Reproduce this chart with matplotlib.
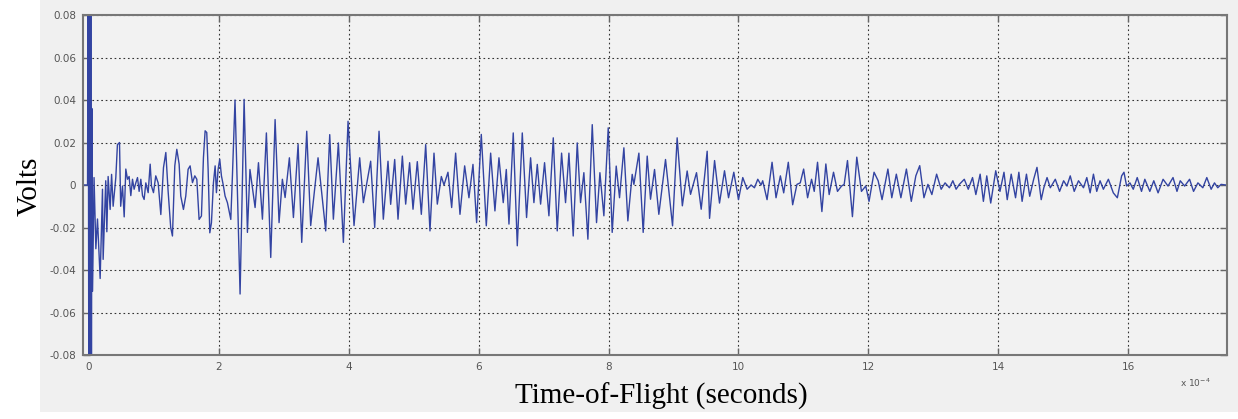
import matplotlib.pyplot as plt
from matplotlib.patches import Rectangle

# trace: time in units of 1e-4 s, amplitude in volts
# (turning points of the waveform, left to right)
t_pts = [
    -0.09, -0.02, -0.01, 0.00, 0.01, 0.02, 0.03, 0.04, 0.046, 0.057,
    0.08, 0.108, 0.133, 0.174, 0.21, 0.22, 0.26, 0.277, 0.297, 0.328,
    0.35, 0.374, 0.415, 0.44, 0.472, 0.49, 0.518, 0.544, 0.569, 0.595,
    0.62, 0.646, 0.672, 0.697, 0.723, 0.749, 0.774, 0.80, 0.826, 0.851,
    0.877, 0.913, 0.944, 0.964, 0.995, 1.03, 1.067, 1.108, 1.149, 1.185,
    1.22, 1.26, 1.287, 1.323, 1.354, 1.39, 1.415, 1.456, 1.492, 1.528,
    1.559, 1.595, 1.631, 1.662, 1.697, 1.733, 1.764, 1.79, 1.815, 1.836,
    1.862, 1.887, 1.918, 1.944, 1.964, 1.99, 2.015, 2.041, 2.072, 2.097,
    2.133, 2.185, 2.21, 2.25,
    2.328, 2.39, 2.441, 2.48, 2.559, 2.611, 2.672, 2.733, 2.80, 2.867,
    2.928, 2.979, 3.021, 3.087, 3.149, 3.221, 3.277, 3.354, 3.415, 3.528,
    3.646, 3.708, 3.764, 3.841, 3.918, 3.990, 4.082, 4.169, 4.226, 4.338,
    4.40, 4.467, 4.533, 4.605, 4.646, 4.708, 4.759,
    4.826, 4.877, 4.938, 4.99, 5.056, 5.118, 5.185, 5.251, 5.313, 5.364,
    5.426, 5.467, 5.528, 5.585, 5.646, 5.713, 5.785, 5.851, 5.913, 5.969,
    6.041, 6.118, 6.185, 6.251, 6.313, 6.379, 6.426, 6.467, 6.533, 6.595,
    6.672, 6.738, 6.80, 6.851, 6.903, 6.954, 7.015, 7.082, 7.149, 7.21,
    7.277, 7.338, 7.39, 7.456, 7.518, 7.569, 7.62, 7.682, 7.749, 7.815,
    7.867, 7.928, 7.995, 8.056, 8.118, 8.169, 8.236, 8.297, 8.364, 8.39,
    8.467, 8.533, 8.595, 8.646, 8.708, 8.774, 8.877, 8.985, 9.056, 9.136,
    9.21, 9.262, 9.354, 9.426, 9.518, 9.555,
    9.632, 9.708, 9.785, 9.847, 9.928, 10.0, 10.066, 10.133, 10.194, 10.246,
    10.297, 10.348, 10.373, 10.44, 10.517, 10.578, 10.645, 10.696, 10.767, 10.834,
    10.90, 10.951, 11.003, 11.064, 11.125, 11.166, 11.217, 11.284, 11.345, 11.396,
    11.463, 11.524, 11.586, 11.627, 11.678, 11.754, 11.821, 11.893, 11.959, 12.01,
    12.087,
    12.15, 12.21, 12.30, 12.36, 12.43, 12.50, 12.585, 12.66, 12.73, 12.79,
    12.855, 12.916, 12.977, 13.05, 13.12, 13.18, 13.247, 13.30, 13.35, 13.40,
    13.476, 13.537, 13.603, 13.654, 13.72, 13.77, 13.822, 13.883, 13.96, 14.025,
    14.087, 14.137, 14.198, 14.265, 14.316, 14.366, 14.433, 14.483, 14.544, 14.595,
    14.66, 14.70, 14.75, 14.80, 14.877, 14.943, 15.005, 15.056, 15.107, 15.168,
    15.234, 15.311, 15.362, 15.413, 15.464, 15.515, 15.566, 15.617, 15.694, 15.77,
    15.832, 15.898, 15.934, 15.975, 16.026, 16.077, 16.138, 16.204, 16.255, 16.332,
    16.393, 16.459, 16.536, 16.612, 16.689, 16.75, 16.80, 16.868, 16.944, 17.005,
    17.072, 17.148, 17.209, 17.276, 17.327, 17.378, 17.429, 17.5,
]
v_pts = [
    0.0, 0.0, 0.12, -0.12, 0.12, -0.12, 0.12, -0.12, 0.036, -0.050,
    0.0035, -0.030, -0.016, -0.044, -0.002, -0.035, 0.002, -0.022, 0.004, -0.0115,
    0.005, -0.010, 0.0035, 0.019, 0.020, -0.010, -0.0005, -0.015, 0.0075, 0.0027,
    0.004, -0.005, 0.0027, -0.002, 0.001, 0.0035, -0.003, 0.0027, -0.005, -0.0068,
    0.001, -0.0036, 0.0098, -0.0005, -0.0036, 0.0043, 0.001, -0.0139, 0.0082, 0.0153,
    -0.0028, -0.020, -0.024, 0.009, 0.0168, 0.0098, -0.0052, -0.0115, -0.0052, 0.0074,
    0.009, 0.0011, 0.0043, 0.0027, -0.0162, -0.0146, 0.0129, 0.0255, 0.0247, 0.0074,
    -0.0225, -0.0178, 0.0011, 0.009, -0.0036, 0.0074, 0.0121, 0.0043, -0.0005, -0.0052,
    -0.0083, -0.0162, 0.0043, 0.040,
    -0.0513, 0.0403, -0.0223, 0.0073, -0.0106, 0.0105, -0.0161, 0.0245, -0.0341, 0.0308,
    -0.0177, 0.0027, -0.0059, 0.0128, -0.0153, 0.0191, -0.0270, 0.0253, -0.0191, 0.0128,
    -0.0216, 0.0237, -0.0161, 0.0198, -0.0270, 0.0300, -0.0191, 0.0128, -0.0083, 0.0112,
    -0.0200, 0.0253, -0.0161, 0.0112, -0.0091, 0.0120, -0.0161,
    0.0136, -0.009, 0.0105, -0.0114, 0.011, -0.0138, 0.019, -0.0216, 0.015, -0.009,
    0.004, 0.0, 0.006, -0.0106, 0.015, -0.0138, 0.009, -0.006, 0.0097, -0.0177,
    0.0238, -0.0192, 0.015, -0.0122, 0.0128, -0.0083, 0.0073, -0.0184, 0.0245, -0.0286,
    0.0245, -0.0153, 0.0128, -0.0083, 0.0097, -0.009, 0.0105, -0.0145, 0.0222, -0.0216,
    0.015, -0.0083, 0.015, -0.024, 0.0198, -0.0083, 0.0058, -0.0255, 0.0284, -0.0177,
    0.0058, -0.0145, 0.0269, -0.0223, 0.0089, -0.006, 0.0175, -0.0169, 0.005, 0.0003,
    0.015, -0.0223, 0.0136, -0.0067, 0.0073, -0.0138, 0.012, -0.0192, 0.0222, -0.0098,
    0.0066, -0.0044, 0.0058, -0.0114, 0.0159, -0.0157,
    0.0115, -0.0085, 0.0067, -0.006, 0.006, -0.0069, 0.0035, -0.002, 0.0, -0.0013,
    0.0027, 0.0, 0.002, -0.0069, 0.0107, -0.006, 0.0043, -0.0037, 0.0107, -0.0093,
    0.0003, 0.001, 0.0075, -0.006, 0.0027, -0.003, 0.0107, -0.0125, 0.0099, -0.0045,
    0.006, -0.003, -0.0005, 0.0003, 0.0115, -0.0149, 0.0131, -0.003, -0.0005, -0.0077,
    0.006,
    0.002, -0.0069, 0.0075, -0.006, 0.0051, -0.006, 0.0075, -0.0077, 0.0043, 0.0091,
    -0.006, 0.0003, -0.0045, 0.0051, -0.002, 0.001, -0.0013, 0.002, -0.002, 0.0003,
    0.0027, -0.002, 0.0035, -0.0045, 0.0051, -0.0077, 0.0043, -0.0085, 0.0067, -0.003,
    0.006, -0.0069, 0.0051, -0.006, 0.006, -0.0077, 0.0051, -0.0053, 0.0027, 0.0083,
    -0.0069, -0.0013, 0.0035, -0.0013, 0.0027, -0.003, 0.002, -0.0005, 0.0043, -0.003,
    0.002, -0.0013, 0.0035, -0.0037, 0.0051, -0.003, 0.002, -0.002, 0.0027, -0.0037,
    -0.006, 0.0043, 0.006, -0.0005, 0.001, -0.002, 0.0035, -0.003, 0.0027, -0.003,
    0.002, -0.0037, 0.0027, -0.0005, 0.0035, -0.003, 0.002, -0.0005, 0.0027, -0.003,
    0.001, -0.0013, 0.0035, -0.002, 0.001, -0.0013, 0.0003, 0.0,
]

x_ticks = [0, 2, 4, 6, 8, 10, 12, 14, 16]
y_ticks = [-0.08, -0.06, -0.04, -0.02, 0, 0.02, 0.04, 0.06, 0.08]
y_tick_labels = ['-0.08', '-0.06', '-0.04', '-0.02', '0', '0.02', '0.04', '0.06', '0.08']

W, H = 1238, 419
fig = plt.figure(figsize=(W / 100, H / 100), dpi=100)
fig.patch.set_facecolor('white')
# grey panel behind the axes (the white strip on the left holds the y label)
fig.patches.append(Rectangle((40 / W, 1 - 412 / H), 1 - 40 / W, 412 / H,
                             transform=fig.transFigure, facecolor='#f0f0f0',
                             edgecolor='none', zorder=-10))

ax = fig.add_axes([83 / W, 1 - 355 / H, (1227 - 83) / W, (355 - 15) / H])
ax.set_facecolor('#f2f2f2')
ax.plot(t_pts, v_pts, color='#3344a2', lw=1.0, solid_joinstyle='round')

ax.set_xlim(-0.09, 17.52)
ax.set_ylim(-0.08, 0.08)
ax.set_xticks(x_ticks)
ax.set_yticks(y_ticks)
ax.set_yticklabels(y_tick_labels)
ax.grid(True, linestyle=(0, (1.5, 2.5)), color='#333333', lw=0.8)
ax.tick_params(direction='in', top=True, right=True, length=5, width=1,
               color='#666666', labelsize=7.5, labelcolor='#555555', pad=5)
for sp in ax.spines.values():
    sp.set_color('#777777')
    sp.set_linewidth(1.5)

fig.text(661 / W, 1 - 396 / H, 'Time-of-Flight (seconds)', family='Liberation Serif',
         fontsize=21, ha='center', va='center')
fig.text(30 / W, 1 - 186 / H, 'Volts', family='Liberation Serif', fontsize=21,
         rotation=90, ha='center', va='center')
fig.text(1195 / W, 1 - 383 / H, r'x 10$^{-4}$', fontsize=6.5, color='#555555',
         ha='center', va='center')

fig.savefig('out.png', dpi=100)
